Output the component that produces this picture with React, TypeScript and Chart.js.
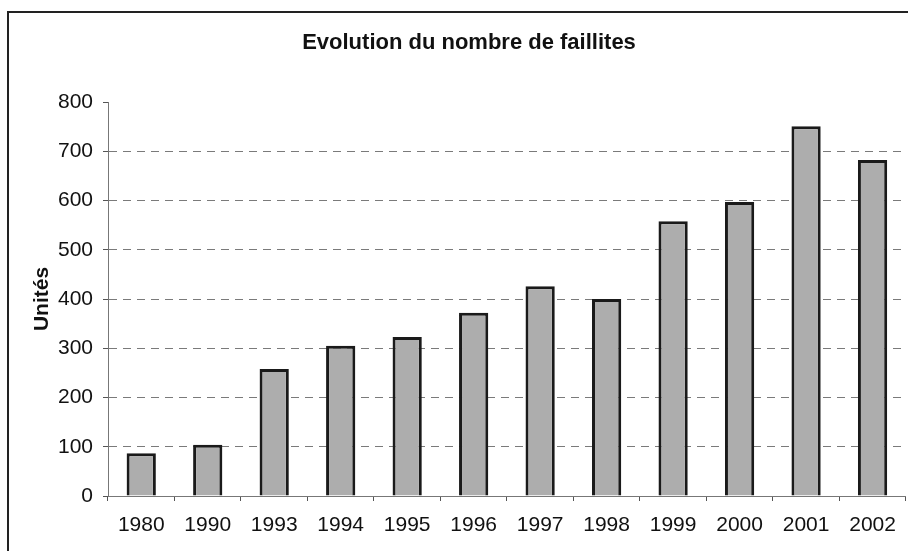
import React, { useEffect, useRef } from "react";
import { Chart, registerables } from "chart.js";

Chart.register(...registerables);

const categories = ["1980", "1990", "1993", "1994", "1995", "1996", "1997", "1998", "1999", "2000", "2001", "2002"];
const failures = [87, 104, 258, 305, 323, 372, 426, 400, 558, 597, 751, 682];
const chartTitle = "Evolution du nombre de faillites";
const yAxisTitle = "Unités";
const yMin = 0;
const yMax = 800;
const yStep = 100;

const FONT = "'Liberation Sans', Arial, sans-serif";

const titlePlugin = {
  id: "customTitle",
  afterDraw(chart: any) {
    const ctx = chart.ctx;
    ctx.save();
    ctx.font = `bold 22px ${FONT}`;
    ctx.fillStyle = "#111";
    ctx.textAlign = "center";
    ctx.textBaseline = "middle";
    ctx.fillText(chartTitle, 469, 43);
    ctx.restore();
  },
};

export default function App() {
  const ref = useRef<HTMLCanvasElement>(null);

  useEffect(() => {
    if (!ref.current) return;
    const chart = new Chart(ref.current, {
      type: "bar",
      data: {
        labels: categories,
        datasets: [
          {
            data: failures,
            backgroundColor: "#adadad",
            borderColor: "#1a1a1a",
            borderWidth: 3,
            barPercentage: 0.44,
            categoryPercentage: 1,
          },
        ],
      },
      options: {
        responsive: false,
        animation: false,
        layout: { padding: { top: 102, right: 2, bottom: 0, left: 0 } },
        plugins: {
          legend: { display: false },
          title: { display: false },
          tooltip: { enabled: false },
        },
        scales: {
          x: {
            offset: true,
            grid: {
              display: true,
              drawOnChartArea: false,
              drawTicks: true,
              tickLength: 5,
              tickColor: "#555",
              offset: true,
            },
            border: { display: true, color: "#777", width: 1 },
            ticks: {
              color: "#111",
              font: { family: FONT, size: 21 },
              padding: 12,
              maxRotation: 0,
              autoSkip: false,
            },
            afterFit: (scale: any) => {
              scale.height = 55;
            },
          },
          y: {
            min: yMin,
            max: yMax,
            grid: {
              color: (c: any) => (c.tick && c.tick.value === yMax ? "rgba(0,0,0,0)" : "#7a7a7a"),
              lineWidth: 1,
              drawTicks: true,
              tickLength: 5,
              tickColor: "#555",
              tickBorderDash: [],
            },
            border: { display: true, color: "#777", width: 1, dash: [8, 6] },
            ticks: {
              stepSize: yStep,
              color: "#111",
              font: { family: FONT, size: 21 },
              padding: 10,
            },
            title: {
              display: true,
              text: yAxisTitle,
              color: "#111",
              font: { family: FONT, size: 21, weight: "bold" },
              padding: { top: 30, bottom: 0 },
            },
            afterFit: (scale: any) => {
              scale.width = 108;
            },
          },
        },
      },
      plugins: [titlePlugin],
    });
    return () => chart.destroy();
  }, []);

  return (
    <div
      style={{
        position: "absolute",
        left: 0,
        top: 0,
        width: 908,
        height: 551,
        overflow: "hidden",
        background: "#fff",
      }}
    >
      <div
        style={{
          position: "absolute",
          left: 7,
          top: 11,
          width: 1000,
          height: 1000,
          border: "2px solid #222",
          boxSizing: "border-box",
        }}
      />
      <canvas
        ref={ref}
        width={908}
        height={551}
        style={{ position: "absolute", left: 0, top: 0, width: 908, height: 551 }}
      />
    </div>
  );
}
